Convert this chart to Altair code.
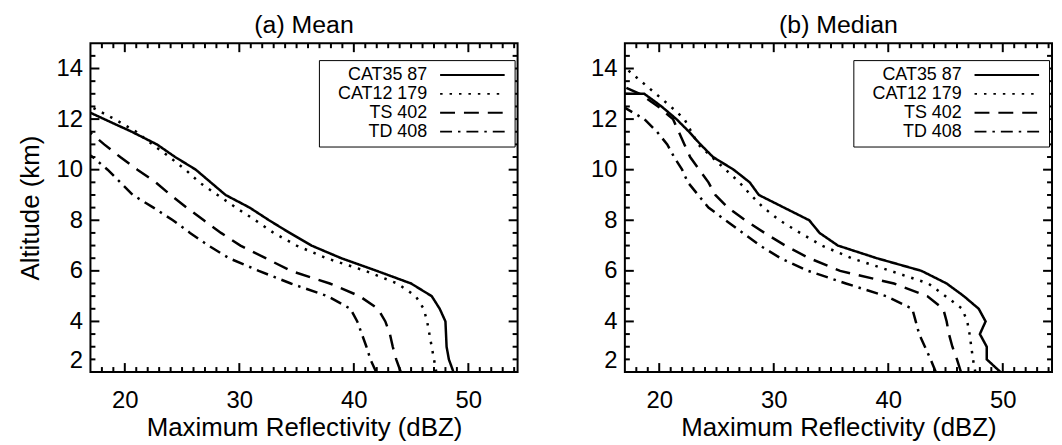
import altair as alt
import pandas as pd

FONT = "Liberation Sans"
SERIES = ["CAT35 87", "CAT12 179", "TS 402", "TD 408"]
DASHES = [[1, 0], [2.5, 7], [15, 9], [12, 6, 2.5, 6]]

X_DOMAIN = [17, 54.3]
Y_DOMAIN = [2, 15]
X_MAJOR = [20, 30, 40, 50]
Y_MAJOR = [2, 4, 6, 8, 10, 12, 14]
X_MINOR = [v for v in range(18, 55) if v not in X_MAJOR]
Y_MINOR = [k / 2 for k in range(5, 30) if k % 4 != 0]

# ---- (a) Mean ----
mean_cat35_alt = [2.0, 2.5, 3.0, 3.5, 4.0, 4.5, 5.0, 5.5, 6.0, 6.5, 7.0, 7.5, 8.0, 8.5, 9.0, 9.5, 10.0, 10.5, 11.0, 11.5, 12.0, 12.5]
mean_cat35_dbz = [48.7, 48.3, 48.1, 48.05, 48.0, 47.5, 46.8, 45.0, 42.0, 38.9, 36.3, 34.4, 32.6, 30.9, 28.8, 27.5, 26.2, 24.4, 22.8, 20.6, 18.2, 15.8]
mean_cat12_alt = [2.0, 2.5, 3.0, 3.5, 4.0, 4.5, 5.0, 5.5, 6.0, 6.5, 7.0, 7.5, 8.0, 8.5, 9.0, 9.5, 10.0, 10.5, 11.0, 11.5, 12.0, 12.5]
mean_cat12_dbz = [47.2, 47.0, 46.8, 46.6, 46.4, 46.1, 45.4, 43.8, 41.0, 37.6, 35.0, 33.0, 31.4, 29.7, 28.1, 26.5, 25.3, 23.9, 22.4, 21.0, 19.1, 17.0]
mean_ts_alt = [2.0, 2.5, 3.0, 3.5, 4.0, 4.5, 5.0, 5.5, 6.0, 6.5, 7.0, 7.5, 8.0, 8.5, 9.0, 9.5, 10.0, 10.5, 11.0, 11.5]
mean_ts_dbz = [44.1, 43.7, 43.4, 43.15, 42.75, 42.1, 40.5, 37.9, 34.5, 32.3, 30.1, 28.4, 26.9, 25.4, 24.0, 22.7, 21.1, 19.6, 18.2, 16.9]
mean_td_alt = [2.0, 2.5, 3.0, 3.5, 4.0, 4.5, 5.0, 5.5, 6.0, 6.5, 7.0, 7.5, 8.0, 8.5, 9.0, 9.5, 10.0, 10.5, 11.0]
mean_td_dbz = [41.95, 41.45, 41.1, 40.7, 40.3, 39.7, 37.7, 34.5, 31.7, 29.1, 27.3, 25.7, 24.2, 22.5, 20.7, 19.6, 18.5, 17.2, 15.6]

# ---- (b) Median ----
median_cat35_alt = [2.0, 2.5, 3.0, 3.5, 4.0, 4.5, 5.0, 5.5, 6.0, 6.5, 7.0, 7.5, 8.0, 8.5, 9.0, 9.5, 10.0, 10.5, 11.0, 11.5, 12.0, 12.5, 13.0, 13.0]
median_cat35_dbz = [49.8, 48.6, 48.6, 48.0, 48.5, 47.9, 46.6, 45.1, 42.9, 39.0, 35.6, 34.0, 33.1, 30.9, 28.7, 27.9, 26.5, 24.7, 23.6, 22.6, 21.5, 20.2, 18.7, 16.0]
median_cat12_alt = [2.0, 2.5, 3.0, 3.5, 4.0, 4.5, 5.0, 5.5, 6.0, 6.5, 7.0, 7.5, 8.0, 8.5, 9.0, 9.5, 10.0, 10.5, 11.0, 11.5, 12.0, 12.5, 13.0, 13.5, 14.0]
median_cat12_dbz = [47.6, 47.4, 47.25, 47.1, 46.9, 46.45, 45.0, 43.5, 40.2, 36.8, 34.2, 32.3, 30.5, 29.1, 28.0, 27.0, 25.8, 24.6, 23.4, 22.8, 22.2, 21.0, 19.7, 18.4, 17.1]
median_ts_alt = [2.0, 2.5, 3.0, 3.5, 4.0, 4.5, 5.0, 5.5, 6.0, 6.5, 7.0, 7.5, 8.0, 8.5, 9.0, 9.5, 10.0, 10.5, 11.0, 11.5, 12.0, 12.5, 13.0, 13.5]
median_ts_dbz = [46.35, 46.0, 45.6, 45.3, 45.1, 44.8, 43.4, 40.5, 35.8, 33.1, 31.0, 29.2, 27.5, 26.0, 24.9, 24.3, 23.5, 22.7, 22.2, 21.7, 21.2, 19.9, 18.3, 15.8]
median_td_alt = [2.0, 2.5, 3.0, 3.5, 4.0, 4.5, 5.0, 5.5, 6.0, 6.5, 7.0, 7.5, 8.0, 8.5, 9.0, 9.5, 10.0, 10.5, 11.0, 11.5, 12.0, 12.5]
median_td_dbz = [44.15, 43.7, 43.2, 42.7, 42.4, 42.1, 39.8, 36.3, 33.0, 30.6, 28.8, 27.3, 25.8, 24.3, 23.4, 22.5, 22.0, 21.3, 20.7, 19.8, 18.7, 16.8]

W, H = 430, 331
MAJ, MIN = 9, 5   # inward tick lengths in pixels


def make_df(pairs):
    rows = []
    for name, alts, dbzs in pairs:
        for i, (a, d) in enumerate(zip(alts, dbzs)):
            rows.append({"series": name, "alt": a, "dbz": d, "idx": i})
    return pd.DataFrame(rows)


df_mean = make_df([
    (SERIES[0], mean_cat35_alt, mean_cat35_dbz),
    (SERIES[1], mean_cat12_alt, mean_cat12_dbz),
    (SERIES[2], mean_ts_alt, mean_ts_dbz),
    (SERIES[3], mean_td_alt, mean_td_dbz),
])
df_median = make_df([
    (SERIES[0], median_cat35_alt, median_cat35_dbz),
    (SERIES[1], median_cat12_alt, median_cat12_dbz),
    (SERIES[2], median_ts_alt, median_ts_dbz),
    (SERIES[3], median_td_alt, median_td_dbz),
])


def tick_table():
    """Inward box ticks on all four sides, as rule segments in data units."""
    ux = (X_DOMAIN[1] - X_DOMAIN[0]) / W   # data units per pixel
    uy = (Y_DOMAIN[1] - Y_DOMAIN[0]) / H
    rows = []
    for vals, ln in ((X_MAJOR, MAJ), (X_MINOR, MIN)):
        for v in vals:
            rows.append({"tx": v, "tx2": v, "ty": Y_DOMAIN[0], "ty2": Y_DOMAIN[0] + ln * uy})
            rows.append({"tx": v, "tx2": v, "ty": Y_DOMAIN[1], "ty2": Y_DOMAIN[1] - ln * uy})
    for vals, ln in ((Y_MAJOR, MAJ), (Y_MINOR, MIN)):
        for v in vals:
            rows.append({"tx": X_DOMAIN[0], "tx2": X_DOMAIN[0] + ln * ux, "ty": v, "ty2": v})
            rows.append({"tx": X_DOMAIN[1], "tx2": X_DOMAIN[1] - ln * ux, "ty": v, "ty2": v})
    return pd.DataFrame(rows)


TICKS = tick_table()


def xs():
    return alt.Scale(domain=X_DOMAIN, nice=False, zero=False)


def ys():
    return alt.Scale(domain=Y_DOMAIN, nice=False, zero=False)


def x_axis():
    return alt.Axis(values=X_MAJOR, title="Maximum Reflectivity (dBZ)", ticks=False,
                    tickSize=0, domain=False, grid=False, labelPadding=17,
                    labelFontSize=24, labelFont=FONT, labelColor="black",
                    titleFontSize=26, titleFont=FONT, titleFontWeight="normal",
                    titleColor="black", titlePadding=2)


def y_axis(ytitle):
    kw = dict(values=Y_MAJOR, ticks=False, tickSize=0, domain=False, grid=False,
              labelPadding=8, labelFontSize=24, labelFont=FONT, labelColor="black",
              labelFlush=True, titleFontSize=26, titleFont=FONT,
              titleFontWeight="normal", titleColor="black", titlePadding=13)
    return alt.Axis(title=ytitle, **kw)


# legend line symbol: a horizontal segment drawn through the symbol's own size scale
LEGEND_SYMBOL = "M-8,0H8"


def panel(df, title, ytitle):
    lines = alt.Chart(df).mark_line(clip=True, strokeWidth=2.5, color="black").encode(
        x=alt.X("dbz:Q", scale=xs(), axis=x_axis()),
        y=alt.Y("alt:Q", scale=ys(), axis=y_axis(ytitle)),
        strokeDash=alt.StrokeDash(
            "series:N", scale=alt.Scale(domain=SERIES, range=DASHES),
            legend=alt.Legend(title=None, orient="none", legendX=230, legendY=17,
                              symbolType=LEGEND_SYMBOL, symbolSize=66, symbolStrokeWidth=2,
                              symbolStrokeColor="black", symbolFillColor="transparent",
                              labelAlign="right",
                              labelBaseline="middle", labelOffset={"expr": "-54.5"},
                              symbolOffset=139.5,
                              rowPadding=1, labelFontSize=18,
                              labelFont=FONT, labelColor="black", labelLimit=0,
                              strokeColor="black", fillColor="white", padding=6,
                              cornerRadius=0)),
        order=alt.Order("idx:Q"),
    )
    ticks = alt.Chart(TICKS).mark_rule(color="#000000", strokeWidth=2, opacity=1).encode(
        x=alt.X("tx:Q", scale=xs(), axis=x_axis()),
        x2="tx2:Q",
        y=alt.Y("ty:Q", scale=ys(), axis=y_axis(ytitle)),
        y2="ty2:Q",
    )
    return alt.layer(lines, ticks).properties(
        width=W, height=H,
        title=alt.Title(title, fontSize=25, font=FONT, fontWeight="normal", color="black", offset=4),
    )


left = panel(df_mean, "(a) Mean", "Altitude (km)")
right = panel(df_median, "(b) Median", None)

chart = (
    alt.hconcat(left, right, spacing=70)
    .resolve_scale(strokeDash="independent")
    .resolve_legend(strokeDash="independent")
    .properties(padding={"left": 8, "top": 3, "right": 0, "bottom": 0})
    .configure_view(stroke="black", strokeWidth=2)
)

chart.save("out.html", embed_options={"renderer": "svg", "actions": False})
